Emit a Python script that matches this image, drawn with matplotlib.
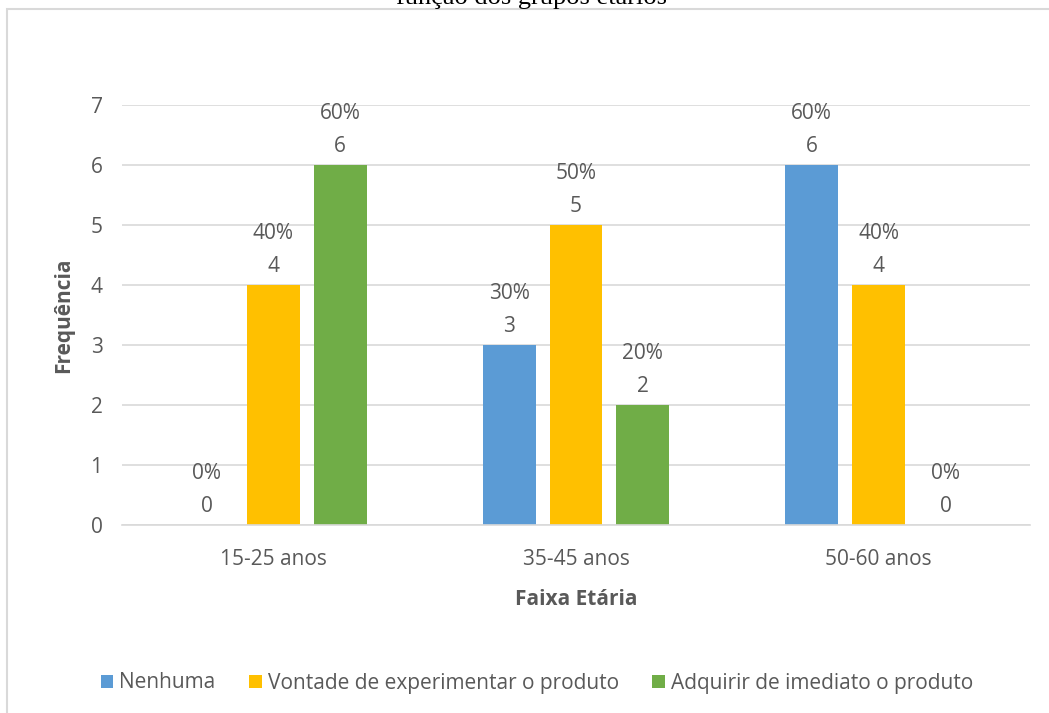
import matplotlib.pyplot as plt
import numpy as np
from matplotlib.patches import Rectangle

plt.rcParams['font.family'] = ['Open Sans', 'DejaVu Sans']

grupos = ['15-25 anos', '35-45 anos', '50-60 anos']
series = ['Nenhuma', 'Vontade de experimentar o produto', 'Adquirir de imediato o produto']
nenhuma = [0, 3, 6]
vontade = [4, 5, 4]
adquirir = [6, 2, 0]
pct_nenhuma = ['0%', '30%', '60%']
pct_vontade = ['40%', '50%', '40%']
pct_adquirir = ['60%', '20%', '0%']
cores = ['#5b9bd5', '#ffc000', '#70ad47']

txt = '#595959'

fig = plt.figure(figsize=(10.49, 7.13), dpi=100)
W, H = 1049, 713

# frame around the chart area
fig.patches.append(Rectangle((7 / W, -0.1), 1.2, 1 - 9 / H + 0.1, transform=fig.transFigure,
                             fill=False, edgecolor='#d9d9d9', linewidth=1.5))
fig.text(532 / W, 1 - 4 / H, 'função dos grupos etários', ha='center', va='baseline',
         fontsize=19, family='Liberation Serif', color='black')

ax = fig.add_axes([122 / W, 1 - 525 / H, (1030 - 122) / W, (525 - 105) / H])
x = np.arange(len(grupos))
w = 0.175
step = 0.221

for i, (vals, pcts) in enumerate([(nenhuma, pct_nenhuma), (vontade, pct_vontade), (adquirir, pct_adquirir)]):
    pos = x + (i - 1) * step
    ax.bar(pos, vals, width=w, color=cores[i], label=series[i], zorder=2)
    for p, v, pc in zip(pos, vals, pcts):
        ax.annotate(f'{pc}\n{v}', (p, v), xytext=(0, 6), textcoords='offset points',
                    ha='center', va='bottom', fontsize=15, color=txt, linespacing=1.7)

ax.set_xlim(-0.5, 2.5)
ax.set_ylim(0, 7)
ax.set_yticks(range(8))
ax.set_xticks(x)
ax.set_xticklabels(grupos)
ax.yaxis.grid(True, color='#d9d9d9', linewidth=1.2, zorder=0)
ax.set_axisbelow(True)
for s in ['top', 'right', 'left']:
    ax.spines[s].set_visible(False)
ax.spines['bottom'].set_color('#d9d9d9')
ax.spines['bottom'].set_linewidth(1.2)
ax.tick_params(axis='both', length=0, labelsize=15, colors=txt)
ax.tick_params(axis='y', pad=14)
ax.tick_params(axis='x', pad=17)

ax.set_xlabel('Faixa Etária', fontsize=15, fontweight='bold', color=txt, labelpad=14)
ax.set_ylabel('Frequência', fontsize=15, fontweight='bold', color=txt, labelpad=12)

fig.legend(loc='center', bbox_to_anchor=(537 / W, 1 - 683 / H), ncol=3, frameon=False,
           fontsize=15, labelcolor=txt, handlelength=0.6, handleheight=0.6,
           handletextpad=0.3, columnspacing=1.6)

fig.savefig('out.png', dpi=100)
